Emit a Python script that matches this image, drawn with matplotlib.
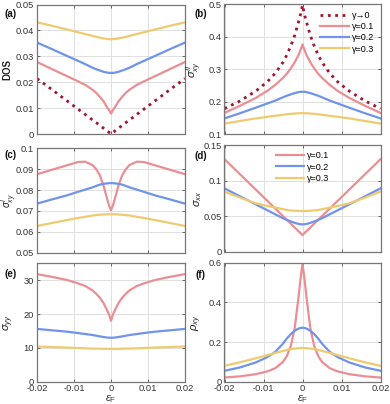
import numpy as np
import matplotlib.pyplot as plt
from matplotlib.ticker import FormatStrFormatter

plt.rcParams['font.family'] = ['Liberation Sans', 'DejaVu Sans']
plt.rcParams['mathtext.fontset'] = 'custom'
plt.rcParams['mathtext.rm'] = 'Liberation Sans'
plt.rcParams['mathtext.it'] = 'Liberation Sans:italic'
plt.rcParams['axes.unicode_minus'] = False

# energy grid for eps_F >= 0 (curves are symmetric in eps_F)
eps_half = [0, 0.0005, 0.001, 0.002, 0.003, 0.004, 0.005, 0.007, 0.009, 0.012, 0.016, 0.02]

# (a) DOS
dos_g0 = [0, 0.0006, 0.0011, 0.0022, 0.0033, 0.0044, 0.0054, 0.0076, 0.0097, 0.0129, 0.0172, 0.0214]
dos_g1 = [0.0079, 0.0092, 0.0102, 0.0126, 0.0143, 0.0159, 0.0171, 0.0190, 0.0204, 0.0224, 0.0251, 0.0278]
dos_g2 = [0.0236, 0.0236, 0.0237, 0.0240, 0.0245, 0.0250, 0.0256, 0.0270, 0.0283, 0.0302, 0.0328, 0.0353]
dos_g3 = [0.0366, 0.0366, 0.0367, 0.0369, 0.0372, 0.0375, 0.0379, 0.0386, 0.0393, 0.0404, 0.0418, 0.0431]

# (b) sigma^II_xy
s2_g0 = [0.498, 0.470, 0.447, 0.405, 0.372, 0.345, 0.322, 0.288, 0.262, 0.233, 0.203, 0.179]
s2_g1 = [0.377, 0.360, 0.345, 0.322, 0.303, 0.287, 0.274, 0.252, 0.234, 0.212, 0.188, 0.166]
s2_g2 = [0.231, 0.231, 0.230, 0.227, 0.223, 0.219, 0.214, 0.204, 0.195, 0.182, 0.165, 0.149]
s2_g3 = [0.165, 0.165, 0.165, 0.164, 0.163, 0.162, 0.160, 0.157, 0.154, 0.149, 0.141, 0.133]

# (c) sigma^I_xy
s1_g1 = [0.0703, 0.0725, 0.0755, 0.0820, 0.0870, 0.0900, 0.0920, 0.0936, 0.0934, 0.0918, 0.0897, 0.0876]
s1_g2 = [0.0833, 0.0833, 0.0832, 0.0830, 0.0826, 0.0820, 0.0813, 0.0802, 0.0791, 0.0774, 0.0755, 0.0735]
s1_g3 = [0.0684, 0.0684, 0.0684, 0.0683, 0.0682, 0.0680, 0.0678, 0.0672, 0.0666, 0.0656, 0.0642, 0.0628]

# (d) sigma_xx
sxx_g1 = [0.0234, 0.0261, 0.0287, 0.0340, 0.0394, 0.0447, 0.0500, 0.0607, 0.0714, 0.0874, 0.1087, 0.1300]
sxx_g2 = [0.0384, 0.0386, 0.0390, 0.0405, 0.0425, 0.0447, 0.0470, 0.0526, 0.0582, 0.0666, 0.0778, 0.0890]
sxx_g3 = [0.0572, 0.0572, 0.0573, 0.0576, 0.0580, 0.0586, 0.0598, 0.0620, 0.0643, 0.0680, 0.0760, 0.0845]

# (e) sigma_yy
syy_g1 = [18.0, 19.8, 21.0, 23.2, 24.8, 26.0, 27.0, 28.3, 29.1, 30.1, 31.0, 31.8]
syy_g2 = [13.0, 13.0, 13.05, 13.2, 13.4, 13.6, 13.8, 14.1, 14.4, 14.8, 15.2, 15.6]
syy_g3 = [9.7, 9.7, 9.7, 9.72, 9.75, 9.78, 9.8, 9.88, 9.95, 10.1, 10.25, 10.4]

# (f) rho_xy
rxy_g1 = [0.595, 0.520, 0.430, 0.270, 0.180, 0.130, 0.100, 0.068, 0.052, 0.038, 0.027, 0.021]
rxy_g2 = [0.272, 0.271, 0.268, 0.257, 0.240, 0.218, 0.192, 0.150, 0.124, 0.097, 0.072, 0.055]
rxy_g3 = [0.170, 0.170, 0.169, 0.167, 0.164, 0.160, 0.155, 0.145, 0.134, 0.118, 0.098, 0.080]

labels = ['γ→0', 'γ=0.1', 'γ=0.2', 'γ=0.3']
c_dark = '#A2142F'
c_pink = '#EB8E93'
c_blue = '#7093EC'
c_yell = '#EECB6F'


def full(v):
    # mirror the eps_F >= 0 half onto eps_F < 0
    v = np.asarray(v, dtype=float)
    return np.concatenate([v[:0:-1], v])


eps = np.concatenate([-np.asarray(eps_half)[:0:-1], eps_half])

W, H = 390, 404
fig = plt.figure(figsize=(W / 100, H / 100), dpi=100)


def make_axes(x0, y0, x1, y1):
    return fig.add_axes([x0 / W, 1 - y1 / H, (x1 - x0) / W, (y1 - y0) / H])


def style(ax, ylim, yticks, bottom=False):
    ax.set_xlim(-0.02, 0.02)
    ax.set_ylim(*ylim)
    ax.set_xticks([-0.02, -0.01, 0, 0.01, 0.02])
    ax.set_yticks(yticks)
    ax.yaxis.set_major_formatter(FormatStrFormatter('%g'))
    ax.xaxis.set_major_formatter(FormatStrFormatter('%g'))
    ax.grid(True, color='#e0e0e0', linewidth=0.7)
    ax.set_axisbelow(True)
    ax.tick_params(direction='in', length=2.5, width=0.6, colors='#555555',
                   labelcolor='#333333', labelsize=6.7, pad=2,
                   top=True, right=True)
    for s in ax.spines.values():
        s.set_color('#777777')
        s.set_linewidth(0.9)
    if not bottom:
        ax.set_xticklabels([])
    else:
        ax.set_xlabel(r'$\epsilon_{\mathrm{F}}$', fontsize=8, color='#333333')
        ax.xaxis.set_label_coords(0.5, -0.095)
        ax.xaxis.label.set_va('top')


def ylab(ax, text, xpix, bold=False, size=8):
    # xpix: right edge of the rotated label, offset in pixels from the axis
    ax.set_ylabel(text, fontsize=7 if bold else size, color='#222222',
                  fontweight='bold' if bold else 'normal')
    w = ax.get_position().width * W
    ax.yaxis.set_label_coords(xpix / w, 0.5)


lw = 1.6
ax_a = make_axes(37, 4.5, 185, 134)
ax_b = make_axes(224.5, 4.5, 380.5, 134.3)
ax_c = make_axes(37, 148.3, 185, 252.7)
ax_d = make_axes(224.5, 145, 380.5, 251.7)
ax_e = make_axes(37, 263.3, 185, 381.7)
ax_f = make_axes(224.5, 262.7, 380.5, 381.7)

# (a)
ax_a.plot(eps, full(dos_g0), ':', color=c_dark, lw=2.0)
ax_a.plot(eps, full(dos_g1), color=c_pink, lw=lw)
ax_a.plot(eps, full(dos_g2), color=c_blue, lw=lw)
ax_a.plot(eps, full(dos_g3), color=c_yell, lw=lw)
style(ax_a, (0, 0.05), [0, 0.01, 0.02, 0.03, 0.04, 0.05])
ylab(ax_a, 'DOS', -25, bold=True)

# (b)
ax_b.plot(eps, full(s2_g0), ':', color=c_dark, lw=2.0, label=labels[0])
ax_b.plot(eps, full(s2_g1), color=c_pink, lw=lw, label=labels[1])
ax_b.plot(eps, full(s2_g2), color=c_blue, lw=lw, label=labels[2])
ax_b.plot(eps, full(s2_g3), color=c_yell, lw=lw, label=labels[3])
style(ax_b, (0.1, 0.5), [0.1, 0.2, 0.3, 0.4, 0.5])
ylab(ax_b, r'$\sigma^{II}_{xy}$', -20)
ax_b.legend(loc='upper right', frameon=False, fontsize=6.5, handlelength=3.2,
            handletextpad=0.3, labelspacing=0.25, borderaxespad=0.3)

# (c)
ax_c.plot(eps, full(s1_g1), color=c_pink, lw=lw)
ax_c.plot(eps, full(s1_g2), color=c_blue, lw=lw)
ax_c.plot(eps, full(s1_g3), color=c_yell, lw=lw)
style(ax_c, (0.05, 0.1), [0.05, 0.06, 0.07, 0.08, 0.09, 0.1])
ylab(ax_c, r'$\sigma^{I}_{xy}$', -18, size=7)

# (d)
ax_d.plot(eps, full(sxx_g1), color=c_pink, lw=lw, label=labels[1])
ax_d.plot(eps, full(sxx_g2), color=c_blue, lw=lw, label=labels[2])
ax_d.plot(eps, full(sxx_g3), color=c_yell, lw=lw, label=labels[3])
style(ax_d, (0, 0.15), [0, 0.05, 0.1, 0.15])
ylab(ax_d, r'$\sigma_{xx}$', -20)
ax_d.legend(loc='upper center', frameon=False, fontsize=6.5, handlelength=3.2,
            handletextpad=0.3, labelspacing=0.25, borderaxespad=0.3,
            bbox_to_anchor=(0.5, 1.0))

# (e)
ax_e.plot(eps, full(syy_g1), color=c_pink, lw=lw)
ax_e.plot(eps, full(syy_g2), color=c_blue, lw=lw)
ax_e.plot(eps, full(syy_g3), color=c_yell, lw=lw)
style(ax_e, (0, 35), [0, 10, 20, 30], bottom=True)
ylab(ax_e, r'$\sigma_{yy}$', -21)

# (f)
ax_f.plot(eps, full(rxy_g1), color=c_pink, lw=lw)
ax_f.plot(eps, full(rxy_g2), color=c_blue, lw=lw)
ax_f.plot(eps, full(rxy_g3), color=c_yell, lw=lw)
style(ax_f, (0, 0.6), [0, 0.2, 0.4, 0.6], bottom=True)
ylab(ax_f, r'$\rho_{xy}$', -20)

# panel letters
for txt, x, y in [('(a)', 11, 14), ('(b)', 201, 14), ('(c)', 11, 155),
                  ('(d)', 201, 156), ('(e)', 11, 274), ('(f)', 201, 275)]:
    fig.text(x / W, 1 - y / H, txt, fontsize=7, fontweight='bold',
             ha='center', va='center', color='#111111')

fig.savefig('out.png', dpi=100)
